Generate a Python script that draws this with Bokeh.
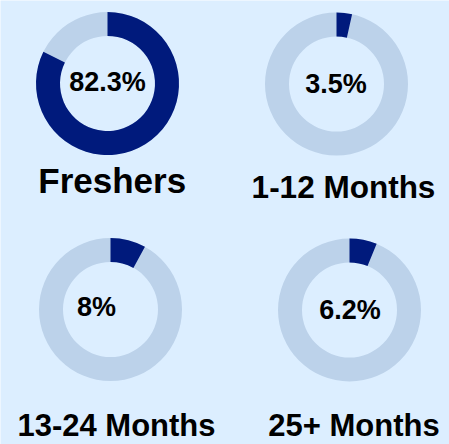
from bokeh.plotting import figure
from bokeh.models import Range1d
from bokeh.core.properties import value
from bokeh.embed import file_html
from bokeh.resources import INLINE
import math

# Data
categories = ["Freshers", "1-12 Months", "13-24 Months", "25+ Months"]
shares = [82.3, 3.5, 8.0, 6.2]
share_labels = ["82.3%", "3.5%", "8%", "6.2%"]

# Layout (pixel positions, top-left origin)
W, H = 449, 444
centers = [(107, 83), (336, 83.5), (110, 309), (349, 309.5)]
pct_pos = [(107, 81), (335.5, 82.7), (96, 306), (349.5, 309.5)]
name_pos = [(111.7, 192), (343, 197), (116, 436), (353.5, 436)]
name_sizes = [35, 31.5, 31, 31]
R_OUT, R_IN = 71.5, 47.5
SHIFT = 0.34  # empirical baseline correction (em)

DARK = "#001a7c"
LIGHT = "#bcd2ea"
BG = "#dceeff"
FONT = "Liberation Sans"

p = figure(width=W, height=H, output_backend="svg", toolbar_location=None,
           x_range=Range1d(0, W), y_range=Range1d(0, H),
           min_border=0, background_fill_color=BG, border_fill_color=BG)
p.axis.visible = False
p.grid.visible = False
p.outline_line_color = None

def fy(y):
    return H - y

for i, cat in enumerate(categories):
    cx, cy = centers[i]
    v = shares[i]
    p.annulus(x=[cx], y=[fy(cy)], inner_radius=R_IN, outer_radius=R_OUT,
              inner_radius_units="screen", outer_radius_units="screen",
              fill_color=LIGHT, line_color=None)
    start = math.pi / 2
    end = math.pi / 2 - 2 * math.pi * v / 100.0
    p.annular_wedge(x=[cx], y=[fy(cy)], inner_radius=R_IN, outer_radius=R_OUT,
                    inner_radius_units="screen", outer_radius_units="screen",
                    start_angle=start, end_angle=end, direction="clock",
                    fill_color=DARK, line_color=None)
    px, py = pct_pos[i]
    fs = 27
    p.text(x=[px], y=[fy(py + 0.358 * fs - SHIFT * fs)], text=[share_labels[i]],
           text_font=value(FONT), text_font_style="bold",
           text_font_size=f"{fs}px", text_align="center",
           text_baseline="alphabetic", text_color="#000000")
    nx, ny = name_pos[i]
    nfs = name_sizes[i]
    p.text(x=[nx], y=[fy(ny - SHIFT * nfs)], text=[cat],
           text_font=value(FONT), text_font_style="bold",
           text_font_size=f"{nfs}px", text_align="center",
           text_baseline="alphabetic", text_color="#000000")

open("out.html", "w").write(file_html(p, INLINE))
